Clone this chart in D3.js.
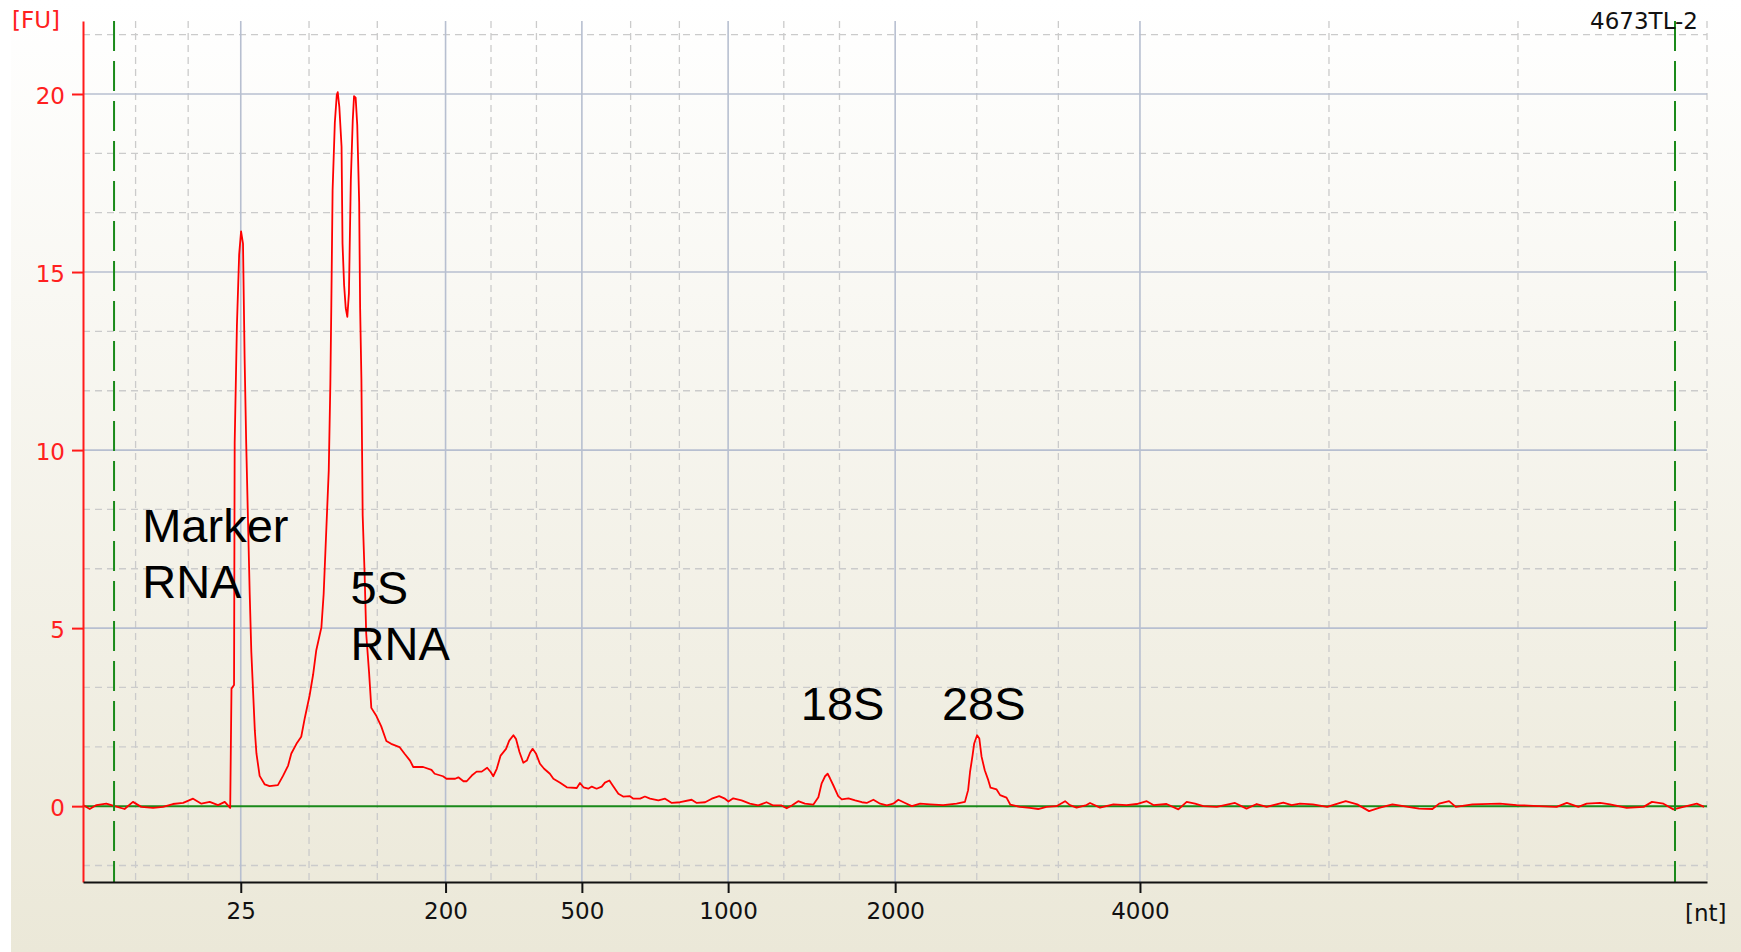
<!DOCTYPE html>
<html>
<head>
<meta charset="utf-8">
<script src="https://cdn.jsdelivr.net/npm/d3@7"></script>
<style>
    body { margin: 0; background: #fff; }
    svg { display: block; }
</style>
</head>
<body>
<div id="chart"></div>
<script>
// Electropherogram trace: migration time (s) and fluorescence (FU)
const traceTime = [
    19.00, 19.21, 19.42, 19.73, 19.99, 20.30, 20.56, 20.82, 21.19, 21.50,
    21.81, 22.13, 22.44, 22.70, 22.96, 23.22, 23.43, 23.60, 23.64, 23.72,
    23.74, 23.81, 23.88, 23.94, 24.00, 24.05, 24.10, 24.21, 24.26, 24.37,
    24.42, 24.52, 24.68, 24.83, 25.09, 25.25, 25.41, 25.51, 25.67, 25.82,
    25.93, 26.08, 26.19, 26.29, 26.45, 26.52, 26.60, 26.68, 26.73, 26.76,
    26.80, 26.87, 26.93, 26.96, 27.01, 27.08, 27.11, 27.16, 27.21, 27.26,
    27.31, 27.37, 27.43, 27.47, 27.52, 27.57, 27.63, 27.66, 27.70, 27.74,
    27.80, 27.85, 27.94, 28.01, 28.17, 28.32, 28.48, 28.63, 28.89, 29.05,
    29.22, 29.32, 29.63, 29.89, 29.99, 30.25, 30.36, 30.63, 30.73, 30.89,
    30.99, 31.15, 31.30, 31.46, 31.63, 31.74, 31.82, 31.93, 32.05, 32.22,
    32.32, 32.45, 32.53, 32.64, 32.76, 32.87, 32.97, 33.05, 33.16, 33.28,
    33.41, 33.59, 33.70, 33.91, 34.12, 34.43, 34.53, 34.64, 34.79, 34.90,
    35.05, 35.21, 35.31, 35.45, 35.57, 35.73, 35.88, 36.09, 36.20, 36.41,
    36.56, 36.72, 36.98, 37.19, 37.40, 37.66, 38.02, 38.18, 38.44, 38.65,
    38.88, 39.06, 39.17, 39.32, 39.58, 39.84, 40.10, 40.36, 40.57, 40.83,
    40.99, 41.15, 41.35, 41.56, 41.82, 41.98, 42.08, 42.19, 42.27, 42.34,
    42.45, 42.60, 42.71, 42.92, 43.13, 43.34, 43.49, 43.70, 43.91, 44.12,
    44.32, 44.48, 44.69, 44.90, 45.16, 45.47, 45.88, 46.30, 46.56, 46.66,
    46.72, 46.80, 46.85, 46.94, 47.01, 47.08, 47.18, 47.29, 47.36, 47.55,
    47.66, 47.86, 47.98, 48.28, 48.59, 48.85, 49.11, 49.42, 49.69, 49.84,
    50.05, 50.36, 50.47, 50.78, 51.20, 51.61, 51.93, 52.24, 52.45, 52.86,
    53.23, 53.49, 53.75, 54.01, 54.43, 55.00, 55.36, 55.68, 55.99, 56.51,
    56.77, 57.03, 57.43, 57.88, 58.46, 58.82, 59.19, 59.50, 59.92, 60.75,
    61.17, 61.38, 61.69, 61.90, 62.42, 63.28, 63.80, 64.32, 65.05, 65.37,
    65.73, 65.99, 66.41, 66.72, 67.24, 67.77, 68.03, 68.39, 68.70, 69.01,
    69.43, 69.66
];
const traceFU = [
    0.03, -0.08, 0.03, 0.07, 0.00, -0.08, 0.12, -0.02, -0.05, -0.02,
    0.06, 0.09, 0.21, 0.07, 0.12, 0.03, 0.12, -0.05, 3.30, 3.40,
    10.2, 13.5, 15.5, 16.14, 15.8, 12.6, 10.2, 5.95, 4.33, 2.12,
    1.48, 0.85, 0.61, 0.56, 0.59, 0.85, 1.14, 1.48, 1.75, 1.95,
    2.47, 3.10, 3.69, 4.38, 5.02, 5.95, 7.69, 9.43, 11.87, 14.07,
    17.3, 19.2, 19.97, 20.05, 19.64, 18.52, 15.8, 14.63, 13.99, 13.74,
    14.4, 17.6, 19.27, 19.94, 19.9, 19.13, 16.97, 14.0, 12.0, 8.16,
    6.53, 4.85, 3.75, 2.76, 2.53, 2.24, 1.83, 1.75, 1.66, 1.47,
    1.28, 1.10, 1.10, 1.02, 0.91, 0.84, 0.77, 0.77, 0.81, 0.70,
    0.70, 0.86, 0.97, 0.97, 1.08, 0.96, 0.84, 1.05, 1.42, 1.61,
    1.84, 1.99, 1.89, 1.52, 1.22, 1.28, 1.50, 1.61, 1.47, 1.19,
    1.05, 0.91, 0.77, 0.66, 0.53, 0.51, 0.65, 0.53, 0.49, 0.55,
    0.49, 0.55, 0.66, 0.72, 0.56, 0.35, 0.27, 0.28, 0.21, 0.21,
    0.27, 0.21, 0.16, 0.21, 0.09, 0.11, 0.18, 0.09, 0.11, 0.21,
    0.28, 0.21, 0.13, 0.22, 0.16, 0.07, 0.02, 0.11, 0.02, 0.02,
    -0.06, 0.02, 0.14, 0.07, 0.04, 0.25, 0.63, 0.84, 0.91, 0.79,
    0.58, 0.28, 0.19, 0.22, 0.16, 0.11, 0.09, 0.18, 0.07, 0.02,
    0.07, 0.18, 0.09, 0.00, 0.07, 0.05, 0.03, 0.07, 0.12, 0.45,
    0.96, 1.43, 1.76, 1.99, 1.90, 1.39, 1.01, 0.73, 0.52, 0.47,
    0.31, 0.24, 0.04, -0.02, -0.05, -0.08, -0.02, 0.00, 0.14, 0.03,
    -0.04, 0.03, 0.09, -0.04, 0.05, 0.03, 0.06, 0.14, 0.03, 0.06,
    -0.09, 0.12, 0.07, 0.00, -0.02, 0.09, -0.07, 0.06, -0.02, 0.10,
    0.03, 0.07, 0.05, -0.02, 0.14, 0.05, -0.14, -0.05, 0.05, -0.07,
    -0.08, 0.07, 0.14, -0.02, 0.05, 0.07, 0.03, 0.01, -0.02, 0.09,
    -0.02, 0.07, 0.09, 0.05, -0.05, -0.02, 0.12, 0.07, -0.09, -0.02,
    0.07, -0.02
];

// Ladder positions (time, s) and their size labels
const ladderTime = [23.93, 30.33, 34.59, 39.16, 44.38, 52.03];
const ladderLabel = ["25", "200", "500", "1000", "2000", "4000"];
const yTicks = [0, 5, 10, 15, 20];
const timeRange = [19, 69.75];
const fuRange = [-2.13, 22.05];

// Green dashed alignment lines
const alignTime = [19.97, 68.75];

// Peak annotations
const peakText = [["Marker", "RNA"], ["5S", "RNA"], ["18S"], ["28S"]];
const peakTime = [20.85, 27.36, 41.43, 45.84];
const peakFU = [7.43, 5.69, 2.42, 2.42];
const sampleName = "4673TL-2";

const W = 1741, H = 952;
const tickFont = "DejaVu Sans, Verdana, sans-serif";

const svg = d3.select("#chart").append("svg")
    .attr("width", W)
    .attr("height", H);

// background gradient (white -> beige)
const grad = svg.append("defs").append("linearGradient")
    .attr("id", "bg")
    .attr("x1", 0).attr("y1", 0).attr("x2", 0).attr("y2", 1);
grad.append("stop").attr("offset", "0%").attr("stop-color", "#ffffff");
grad.append("stop").attr("offset", "100%").attr("stop-color", "#ebe8d8");

svg.append("rect")
    .attr("x", 11).attr("y", 0)
    .attr("width", W - 11).attr("height", H)
    .attr("fill", "url(#bg)");

// Scales
const x = d3.scaleLinear().domain(timeRange).range([83, 1707]);
const y = d3.scaleLinear().domain(fuRange).range([882, 21]);

// Grid: dashed lines split each interval into thirds
const anchors = [timeRange[0], ...ladderTime, timeRange[1]];
const minorX = [];
for (let i = 0; i < anchors.length - 1; i++) {
    const a = anchors[i], b = anchors[i + 1];
    minorX.push(a + (b - a) / 3, a + 2 * (b - a) / 3);
}
minorX.push(timeRange[1]);
const minorY = d3.range(-1, 14).filter(k => k % 3 !== 0).map(k => k * 5 / 3);

const grid = svg.append("g");
grid.selectAll(".vminor")
    .data(minorX)
    .enter().append("line")
    .attr("x1", d => x(d)).attr("x2", d => x(d))
    .attr("y1", y.range()[1]).attr("y2", y.range()[0])
    .attr("stroke", "#cbcbcb")
    .attr("stroke-width", 1.3)
    .attr("stroke-dasharray", "7,5");
grid.selectAll(".hminor")
    .data(minorY)
    .enter().append("line")
    .attr("x1", x.range()[0]).attr("x2", x.range()[1])
    .attr("y1", d => y(d)).attr("y2", d => y(d))
    .attr("stroke", "#cbcbcb")
    .attr("stroke-width", 1.3)
    .attr("stroke-dasharray", "7,5");
grid.selectAll(".vmajor")
    .data(ladderTime)
    .enter().append("line")
    .attr("x1", d => x(d)).attr("x2", d => x(d))
    .attr("y1", y.range()[1]).attr("y2", y.range()[0])
    .attr("stroke", "#b7bfd0")
    .attr("stroke-width", 1.6);
grid.selectAll(".hmajor")
    .data(yTicks.filter(d => d > 0))
    .enter().append("line")
    .attr("x1", x.range()[0]).attr("x2", x.range()[1])
    .attr("y1", d => y(d)).attr("y2", d => y(d))
    .attr("stroke", "#b7bfd0")
    .attr("stroke-width", 1.6);

// Green baseline at 0 FU
svg.append("line")
    .attr("x1", x.range()[0]).attr("x2", x.range()[1])
    .attr("y1", y(0)).attr("y2", y(0))
    .attr("stroke", "#1a8a1a")
    .attr("stroke-width", 2);

// Trace
const line = d3.line()
    .x(i => x(traceTime[i]))
    .y(i => y(traceFU[i]));

svg.append("path")
    .datum(d3.range(traceTime.length))
    .attr("d", line)
    .attr("fill", "none")
    .attr("stroke", "#ff0000")
    .attr("stroke-width", 1.8)
    .attr("stroke-linejoin", "round");

// Green dashed alignment lines
svg.selectAll(".align")
    .data(alignTime)
    .enter().append("line")
    .attr("x1", d => x(d)).attr("x2", d => x(d))
    .attr("y1", y.range()[1]).attr("y2", y.range()[0])
    .attr("stroke", "#1a8a1a")
    .attr("stroke-width", 2)
    .attr("stroke-dasharray", "30,10");

// Axes
const yAxis = svg.append("g")
    .attr("transform", `translate(${x.range()[0]},0)`)
    .call(d3.axisLeft(y).tickValues(yTicks).tickSize(11).tickSizeOuter(0).tickPadding(7));
yAxis.select(".domain").attr("stroke", "#ff1a1a").attr("stroke-width", 2);
yAxis.selectAll(".tick line").attr("stroke", "#ff1a1a").attr("stroke-width", 2);
yAxis.selectAll(".tick text")
    .attr("fill", "#ff2020")
    .attr("dy", "0.4em")
    .style("font-family", tickFont)
    .style("font-size", "23px");

const xAxis = svg.append("g")
    .attr("transform", `translate(0,${y.range()[0]})`)
    .call(d3.axisBottom(x).tickValues(ladderTime)
        .tickFormat((d, i) => ladderLabel[i])
        .tickSize(11).tickSizeOuter(0).tickPadding(10));
xAxis.select(".domain").attr("stroke", "#111").attr("stroke-width", 2);
xAxis.selectAll(".tick line").attr("stroke", "#111").attr("stroke-width", 2);
xAxis.selectAll(".tick text")
    .attr("fill", "#111")
    .style("font-family", tickFont)
    .style("font-size", "23px");

// Unit labels and sample name
svg.append("text")
    .attr("x", 12).attr("y", 28)
    .attr("fill", "#ff2020")
    .style("font-family", tickFont)
    .style("font-size", "23px")
    .text("[FU]");

svg.append("text")
    .attr("x", 1685).attr("y", 921)
    .attr("fill", "#111")
    .style("font-family", tickFont)
    .style("font-size", "23px")
    .text("[nt]");

svg.append("text")
    .attr("x", 1698).attr("y", 29)
    .attr("text-anchor", "end")
    .attr("fill", "#111")
    .style("font-family", tickFont)
    .style("font-size", "23px")
    .text(sampleName);

// Peak annotations
peakText.forEach((lines, i) => {
    const t = svg.append("text")
        .attr("x", x(peakTime[i]))
        .attr("y", y(peakFU[i]))
        .attr("fill", "#000")
        .style("font-family", "Liberation Sans, Arial, sans-serif")
        .style("font-size", "47px");
    lines.forEach((s, j) => {
        t.append("tspan")
            .attr("x", x(peakTime[i]))
            .attr("dy", j === 0 ? 0 : "1.2em")
            .text(s);
    });
});
</script>
</body>
</html>
